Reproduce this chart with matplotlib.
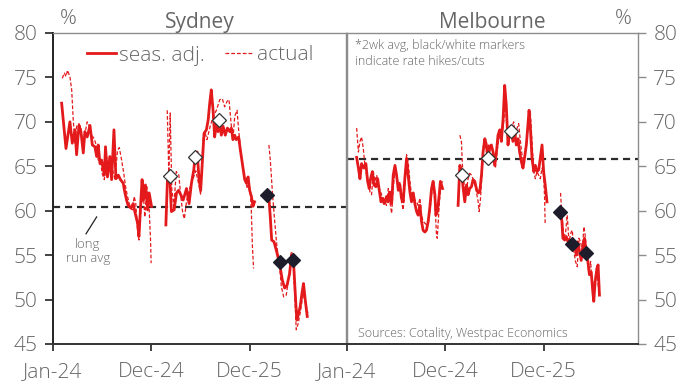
import numpy as np
import matplotlib.pyplot as plt
from matplotlib.lines import Line2D

nan = np.nan

# weeks since start of each panel; nan marks the summer breaks
syd_sa_wk = [4.4, 6.6, 8.6, 9.8, 11.2, 12.0, 13.2, 14.2, 15.4, 16.2, 17.4, 18.8, 20.0, 21.3, 22.2,
             23.0, 23.9, 24.7, 26.1, 26.7, 27.7, 28.9, 29.8, 31.0, 32.0, 33.2, 34.3, 35.7, 36.5,
             37.4, 38.2, 39.6, 40.8, 41.6, 43.0, 43.7, 44.7, 45.3, 46.0, 47.0, 48.1, 48.9, 50.1, nan,
             57.4, 58.2, 59.4, 60.2, 61.6, 62.8, 63.9, 66.2, 67.9, 69.2, 70.4, 71.6, 72.4, 73.3,
             74.3, 75.1, 76.0, 76.8, 78.0, 78.9, 79.7, 80.5, 81.4, 82.2, 83.1, 83.9, 84.8, 85.6,
             86.5, 87.6, 88.7, 89.9, 90.7, 91.5, 92.4, 93.2, 94.4, 95.3, 96.3, 97.5, 98.3, 99.2,
             100.0, 100.9, 101.7, 102.5, nan,
             109.0, 109.8, 110.5, 111.2, 112.4, 113.5, 115.2, 116.6, 117.8, 119.0, 120.3, 121.3,
             122.3, 123.4, 124.0, 124.9, 125.7, 126.6, 127.4, 128.3, 129.3]
syd_sa = [72.1, 67.0, 70.0, 67.6, 69.1, 66.3, 69.6, 68.9, 66.5, 68.9, 68.3, 69.6, 67.4, 67.2, 66.1,
          67.4, 65.3, 65.7, 64.0, 67.2, 63.8, 66.1, 63.5, 69.1, 63.6, 64.0, 63.5, 63.1, 62.1,
          61.2, 60.6, 60.3, 60.8, 59.9, 58.6, 57.1, 61.2, 63.5, 61.2, 62.9, 60.1, 62.0, 60.5, nan,
          58.4, 63.5, 63.8, 59.9, 60.1, 62.0, 62.3, 61.2, 62.5, 60.8, 63.1, 64.6, 66.3, 66.6,
          63.5, 62.3, 65.7, 68.7, 69.1, 70.2, 72.1, 73.6, 71.3, 68.3, 69.8, 68.9, 69.8, 68.5,
          69.5, 68.5, 69.3, 68.9, 69.3, 68.0, 68.5, 68.0, 68.3, 66.8, 65.3, 63.5, 63.1, 63.8,
          62.3, 61.6, 60.5, 61.0, nan,
          61.8, 61.4, 59.3, 56.7, 56.5, 55.6, 54.1, 52.2, 51.3, 51.6, 52.9, 55.0,
          54.3, 49.9, 47.7, 48.5, 49.2, 50.7, 51.8, 49.9, 48.1]

syd_act_wk = [4.7, 5.8, 6.6, 7.4, 8.6, 9.5, 10.3, 11.2, 12.0, 13.2, 14.2, 15.4, 16.6, 17.4, 18.4,
              19.6, 21.0, 22.2, 23.0, 24.2, 25.0, 26.1, 27.2, 28.1, 29.3, 30.3, 31.5, 32.8, 33.7,
              34.9, 36.0, 36.9, 37.9, 39.1, 40.3, 41.3, 42.1, 43.0, 43.7, 44.7, 45.9, 46.7, 47.7,
              48.7, 49.6, 49.9, nan,
              58.1, 58.9, 59.6, 60.4, 61.4, 62.7, 64.0, 65.0, 66.0, 66.8, 68.0, 69.5, 71.1, 72.6,
              74.1, 75.1, 76.3, 77.2, 78.3, 79.7, 81.4, 83.1, 84.8, 86.1, 87.3, 88.5, 89.5, 90.7,
              91.5, 92.4, 93.6, 94.4, 95.3, 96.6, 97.8, 98.8, 99.6, 100.5, 100.9, 101.4, 102.0, nan,
              109.8, 110.5, 111.6, 112.7, 113.9, 114.9, 116.1, 117.3, 118.6, 120.0, 121.2, 122.0,
              122.9, 123.7, 124.7, 125.7, 126.7, 127.7, 128.8, 129.6]
syd_act = [74.9, 75.5, 75.1, 75.8, 75.1, 73.6, 70.2, 67.6, 69.5, 69.8, 69.3, 66.6, 69.1, 70.0, 69.5,
           68.5, 68.1, 67.2, 65.7, 65.5, 64.2, 63.5, 66.1, 65.3, 65.7, 64.6, 63.5, 66.8, 67.1,
           65.7, 64.2, 62.7, 61.6, 60.5, 60.1, 61.6, 60.8, 57.8, 56.7, 60.1, 62.0, 59.3, 62.7,
           61.2, 56.7, 54.1, nan,
           71.3, 64.0, 71.0, 62.5, 60.5, 64.4, 64.0, 61.6, 59.7, 59.1, 61.2, 62.5, 63.5, 64.5,
           63.0, 61.8, 68.0, 68.9, 68.0, 69.3, 70.6, 71.3, 72.5, 72.6, 71.7, 72.3, 72.5, 69.5,
           68.0, 70.6, 71.3, 69.1, 67.2, 64.6, 63.5, 62.5, 63.3, 61.6, 59.7, 56.0, 53.5, nan,
           67.4, 65.7, 62.0, 58.9, 55.9, 54.5, 51.5, 50.3, 50.5, 52.6, 55.4, 55.2,
           50.7, 46.6, 47.3, 48.5, 49.9, 50.7, 49.2, 48.5]

mel_sa_wk = [4.9, 5.8, 6.6, 7.4, 8.6, 9.6, 10.5, 11.3, 12.0, 12.9, 13.7, 14.7, 15.6, 16.4, 17.3,
             18.1, 18.9, 20.1, 21.0, 21.8, 22.7, 23.5, 24.4, 25.2, 26.1, 26.9, 27.7, 28.6, 29.4,
             30.3, 31.1, 32.0, 32.8, 33.7, 34.5, 35.4, 36.2, 37.1, 37.9, 38.7, 39.6, 40.4, 41.3,
             42.1, 43.0, 43.8, 44.7, 45.2, 46.0, 46.9, 47.5, 48.6, nan,
             56.5, 57.4, 58.2, 59.1, 59.9, 60.8, 61.6, 62.4, 63.3, 64.1, 65.0, 65.8, 66.7, 67.5,
             68.4, 69.2, 70.1, 70.9, 71.7, 72.6, 73.4, 74.3, 75.1, 76.0, 76.8, 77.7, 78.5, 79.4,
             80.2, 81.0, 81.9, 82.7, 83.6, 84.4, 85.3, 86.1, 87.0, 87.8, 88.7, 89.5, 90.4, 91.2,
             92.0, 92.6, 93.2, 94.1, 95.0, 95.8, 96.6, 97.5, 98.3, 99.2, 100.0, 100.8, 101.7, nan,
             108.6, 109.3, 109.8, 110.7, 111.5, 112.4, 113.2, 114.0, 114.9, 115.7, 116.6, 117.4,
             118.3, 119.1, 120.0, 120.8, 121.7, 122.5, 123.3, 124.2, 125.0, 125.5, 126.2, 127.1,
             127.7, 128.4]
mel_sa = [66.0, 64.8, 63.6, 65.3, 64.8, 65.3, 63.3, 62.5, 63.6, 64.4, 62.9, 62.7, 63.6, 62.3, 61.0,
          61.4, 60.8, 61.6, 61.0, 62.1, 60.8, 64.0, 65.1, 64.0, 62.3, 62.9, 61.4, 61.0, 63.6,
          65.9, 64.0, 62.1, 61.0, 62.0, 60.8, 59.9, 59.5, 60.6, 58.8, 57.8, 57.6, 57.8, 58.8,
          60.3, 62.5, 63.3, 61.8, 59.5, 59.9, 61.8, 63.3, 62.5, nan,
          60.6, 65.1, 64.4, 62.5, 61.0, 62.9, 61.8, 62.5, 62.7, 63.5, 63.3, 62.5, 62.0, 62.1,
          64.0, 66.6, 68.1, 67.4, 65.9, 67.2, 67.4, 66.6, 65.1, 66.6, 68.5, 69.1, 67.8, 70.4,
          74.1, 71.9, 67.4, 69.3, 68.7, 67.8, 68.9, 67.4, 68.1, 66.6, 65.5, 64.8, 66.1, 67.4,
          69.6, 71.3, 69.6, 65.9, 64.4, 65.1, 64.4, 64.6, 65.9, 67.4, 64.4, 62.9, 61.0, nan,
          59.8, 58.8, 56.9, 56.7, 57.1, 56.5, 56.7, 56.1, 55.8, 56.5, 55.0, 56.5,
          55.4, 54.4, 56.1, 56.9, 55.2, 54.3, 52.8, 53.1, 50.9, 49.8, 52.0, 53.5,
          53.9, 50.5]

mel_act_wk = [4.9, 5.8, 6.6, 7.4, 8.3, 9.1, 10.0, 10.8, 11.7, 12.5, 13.4, 14.2, 15.1, 15.9, 16.8,
              17.6, 18.4, 19.3, 20.1, 21.0, 21.8, 22.7, 23.5, 24.4, 25.2, 26.1, 26.9, 27.7, 28.6,
              29.4, 30.3, 31.1, 32.0, 32.8, 33.7, 34.5, 35.4, 36.2, 37.1, 37.9, 38.7, 39.6, 40.4,
              41.3, 42.1, 43.0, 43.8, 44.7, 45.5, 45.9, 46.9, 47.7, 48.6, nan,
              57.4, 58.2, 58.7, 59.4, 60.4, 61.6, 62.4, 63.3, 64.1, 65.0, 65.8, 66.7, 67.2, 67.9,
              68.7, 69.5, 70.4, 71.2, 72.1, 72.9, 73.8, 74.6, 75.5, 76.3, 77.2, 78.0, 78.8, 79.7,
              80.5, 81.4, 82.2, 83.1, 83.9, 84.8, 85.6, 86.5, 87.3, 88.2, 89.0, 89.8, 90.7, 91.5,
              92.4, 93.2, 94.1, 95.0, 95.8, 96.6, 97.5, 98.3, 99.2, 100.0, 100.5, 100.8, nan,
              108.6, 109.3, 110.3, 111.2, 112.0, 112.9, 114.0, 114.6, 115.4, 116.2, 117.1, 117.9,
              118.8, 119.6, 120.5, 121.1, 122.2, 123.0, 123.9, 124.5, 125.4, 126.2, 127.1, 127.9]
mel_act = [69.3, 66.6, 67.8, 68.3, 67.0, 65.1, 64.0, 63.3, 62.1, 61.8, 64.4, 63.3, 64.0, 62.9, 62.3,
           61.8, 61.4, 61.0, 60.6, 62.5, 61.0, 59.7, 62.5, 64.6, 64.0, 62.9, 63.3, 61.0, 60.1,
           62.9, 66.3, 65.5, 63.3, 61.8, 62.1, 61.2, 61.0, 60.6, 61.4, 59.5, 58.8, 58.6, 58.4,
           58.6, 59.9, 61.8, 63.3, 61.0, 57.3, 56.9, 60.6, 62.9, 63.3, nan,
           68.5, 67.8, 65.1, 63.3, 61.8, 63.6, 64.2, 64.0, 63.6, 62.9, 62.1, 61.0, 59.9, 61.4,
           64.4, 67.8, 67.2, 66.3, 67.4, 66.6, 65.5, 65.9, 64.8, 66.6, 68.1, 68.9, 68.5, 70.0,
           72.3, 69.3, 68.1, 68.7, 69.5, 70.0, 68.1, 69.3, 69.8, 67.8, 66.3, 65.5, 66.6, 67.8,
           70.8, 71.2, 67.8, 64.4, 63.6, 64.4, 64.0, 63.6, 64.8, 64.0, 61.4, 58.4, nan,
           62.0, 59.5, 56.9, 57.6, 59.5, 56.5, 57.6, 57.8, 55.4, 54.3, 53.7, 56.9,
           56.5, 55.4, 58.2, 57.3, 55.0, 52.8, 54.3, 52.4, 51.3, 52.4, 53.1, 51.3]

# rate cuts (white) and hikes (black)
syd_cut_wk = [59.4, 72.4, 84.4]
syd_cut = [63.9, 66.0, 70.2]
syd_hike_wk = [109.0, 115.2, 122.3]
syd_hike = [61.8, 54.2, 54.4]
mel_cut_wk = [58.7, 71.7, 83.6]
mel_cut = [64.0, 65.9, 69.0]
mel_hike_wk = [108.5, 114.4, 121.7]
mel_hike = [59.8, 56.2, 55.2]

syd_avg = 60.4
mel_avg = 65.8

tick_wk = [0, 50, 100]
tick_labels = ['Jan-24', 'Dec-24', 'Dec-25']
y_ticks = [45, 50, 55, 60, 65, 70, 75, 80]

RED = '#E3191B'
GREY = '#666666'
SPINE_GREY = '#8c8c8c'
plt.rcParams['font.family'] = ['Open Sans', 'DejaVu Sans']
plt.rcParams['font.weight'] = 'light'
FS = 15

fig = plt.figure(figsize=(6.84, 3.85), dpi=100)
ax1 = fig.add_axes([53 / 684, 41 / 385, 293 / 684, 311 / 385])
ax2 = fig.add_axes([347 / 684, 41 / 385, 291 / 684, 311 / 385])

panels = [
    (ax1, syd_sa_wk, syd_sa, syd_act_wk, syd_act, syd_cut_wk, syd_cut, syd_hike_wk, syd_hike, syd_avg, 149),
    (ax2, mel_sa_wk, mel_sa, mel_act_wk, mel_act, mel_cut_wk, mel_cut, mel_hike_wk, mel_hike, mel_avg, 148),
]
for ax, sw, sv, aw, av, cw, cv, hw, hv, avg, xmax in panels:
    ax.axhline(avg, color='#2b2b2b', lw=1.6, ls=(0, (3.2, 2.2)), zorder=1)
    ax.plot(aw, av, color=RED, lw=0.9, ls=(0, (3, 1.6)), zorder=2)
    ax.plot(sw, sv, color=RED, lw=2.0, zorder=3)
    ax.plot(cw, cv, ls='none', marker='D', ms=6.8, mfc='white', mec='#333333', mew=0.9, zorder=4)
    ax.plot(hw, hv, ls='none', marker='D', ms=6.8, mfc='#1c1c2a', mec='#1c1c2a', mew=0.9, zorder=4)
    ax.set_xlim(0, xmax)
    ax.set_ylim(45, 80)
    ax.set_yticks(y_ticks)
    ax.set_xticks(tick_wk)
    ax.set_xticklabels(tick_labels)
    ax.tick_params(axis='x', direction='out', length=5, width=1.2, color='#222222',
                   labelsize=FS, labelcolor=GREY, pad=8)
    for s in ax.spines.values():
        s.set_color(SPINE_GREY)
        s.set_linewidth(1.0)
    ax.spines['bottom'].set_color('#333333')
    ax.spines['bottom'].set_linewidth(1.4)

ax1.spines['left'].set_color('#222222')
ax1.spines['left'].set_linewidth(1.4)
ax1.tick_params(axis='y', direction='out', length=6, width=1.2, color='#222222',
                labelsize=FS, labelcolor=GREY, pad=5, left=True, right=False)
ax2.tick_params(axis='y', direction='out', length=6, width=1.0, color=SPINE_GREY,
                labelsize=FS, labelcolor=GREY, pad=5, left=False, right=True,
                labelleft=False, labelright=True)

# titles and units above each panel
ax1.set_title('Sydney', fontsize=FS, color=GREY, pad=1)
ax2.set_title('Melbourne', fontsize=FS, color=GREY, pad=1)
fig.text(68 / 684, 1 - 19 / 385, '%', fontsize=FS, color=GREY, ha='center', va='center')
fig.text(623 / 684, 1 - 19 / 385, '%', fontsize=FS, color=GREY, ha='center', va='center')

handles = [Line2D([], [], color=RED, lw=2.0),
           Line2D([], [], color=RED, lw=0.9, ls=(0, (3, 1.6)))]
ax1.legend(handles, ['seas. adj.', 'actual'], loc='upper left', bbox_to_anchor=(0.075, 1.0),
           ncol=2, frameon=False, fontsize=FS, labelcolor=GREY, handlelength=1.35,
           handletextpad=0.15, columnspacing=1.0, borderaxespad=0.2)

ax1.plot([16.8, 22.2], [57.4, 59.3], color='#222222', lw=0.9)
ax1.text(17.8, 55.4, 'long\nrun avg', fontsize=9.5, color=GREY, ha='center', va='center',
         linespacing=1.1)

ax2.text(4.1, 79.3, '*2wk avg, black/white markers\nindicate rate hikes/cuts', fontsize=9,
         color=GREY, ha='left', va='top', linespacing=1.25)
ax2.text(5.6, 45.5, 'Sources: Cotality, Westpac Economics', fontsize=9, color=GREY,
         ha='left', va='bottom')

fig.savefig('out.png', dpi=100)
